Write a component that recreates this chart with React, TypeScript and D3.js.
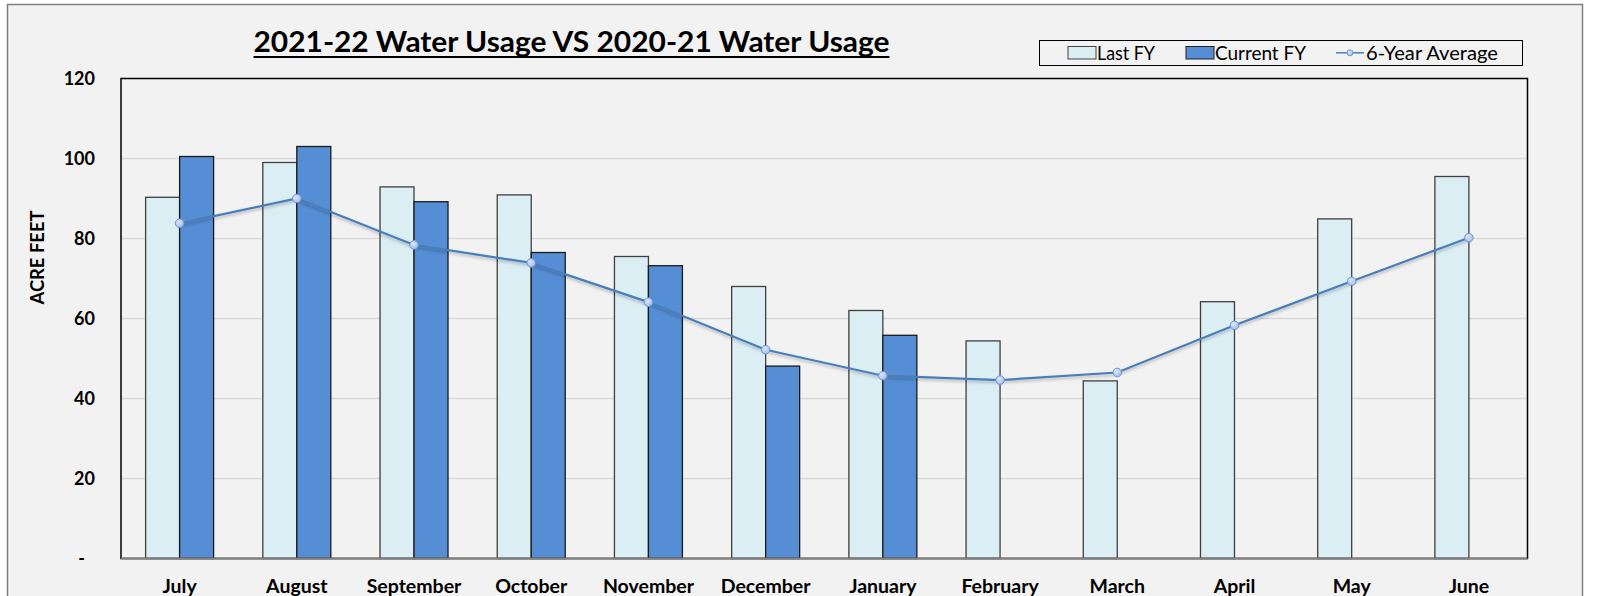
import React from "react";
import * as d3 from "d3";

const months = ["July", "August", "September", "October", "November", "December", "January", "February", "March", "April", "May", "June"];
const lastFY = [90.3, 99.0, 92.9, 90.9, 75.5, 68.0, 62.0, 54.4, 44.4, 64.2, 84.9, 95.5];
const currentFY: (number | null)[] = [100.5, 103.0, 89.2, 76.5, 73.2, 48.1, 55.8, null, null, null, null, null];
const sixYearAvg = [83.8, 90.0, 78.4, 73.9, 64.1, 52.2, 45.7, 44.6, 46.5, 58.3, 69.3, 80.2];
const yTicks = [0, 20, 40, 60, 80, 100, 120];
const seriesNames = ["Last FY", "Current FY", "6-Year Average"];
const titleText = "2021-22 Water Usage VS 2020-21 Water Usage";
const yAxisTitle = "ACRE FEET";

const W = 1601;
const H = 596;
const plot = { left: 121, top: 78.5, right: 1527.5, bottom: 558.5 };
const FONT = "Lato, 'Open Sans', sans-serif";
const LIGHT = "#DBEEF4";
const DARK = "#558ED5";
const LINE = "#4A7EBB";

export default function App() {
  const x = d3.scaleBand<string>().domain(months).range([plot.left, plot.right]).paddingInner(0.42).paddingOuter(0.21);
  const sub = d3.scaleBand<string>().domain(["last", "current"]).range([0, x.bandwidth()]);
  const y = d3.scaleLinear().domain([0, 120]).range([plot.bottom, plot.top]);
  const cx = (m: string) => (x(m) as number) + x.bandwidth() / 2;
  const line = d3
    .line<number>()
    .x((_, i) => cx(months[i]))
    .y((d) => y(d));

  return (
    <svg width={W} height={H} style={{ position: "absolute", left: 0, top: 0, background: "#ffffff" }}>
      <defs>
        <filter id="shadow" x="-5%" y="-20%" width="110%" height="140%">
          <feDropShadow dx="0" dy="2" stdDeviation="1.5" floodColor="#000" floodOpacity="0.25" />
        </filter>
        <radialGradient id="mk" cx="40%" cy="35%" r="70%">
          <stop offset="0%" stopColor="#DCE7FB" />
          <stop offset="100%" stopColor="#9DBAEC" />
        </radialGradient>
      </defs>
      <rect x={7.5} y={4.5} width={1575} height={620} fill="#F2F2F2" stroke="#7F7F7F" strokeWidth={1.5} />

      {/* title */}
      <text x={571.5} y={52} textAnchor="middle" fontFamily={FONT} fontWeight={700} fontSize={28} textLength={636} lengthAdjust="spacingAndGlyphs" fill="#000">
        {titleText}
      </text>
      <line x1={253.5} x2={889.5} y1={57} y2={57} stroke="#000" strokeWidth={2} />

      {/* legend */}
      <rect x={1039.5} y={40.5} width={483} height={25} fill="#F2F2F2" stroke="#000" strokeWidth={1} />
      <rect x={1068} y={46.5} width={28} height={12.5} fill={LIGHT} stroke="#404040" strokeWidth={1} />
      <text x={1097} y={59.5} fontFamily={FONT} fontSize={18.5} fill="#000" textLength={58} lengthAdjust="spacingAndGlyphs">{seriesNames[0]}</text>
      <rect x={1186} y={46.5} width={28} height={12.5} fill={DARK} stroke="#202020" strokeWidth={1} />
      <text x={1215} y={59.5} fontFamily={FONT} fontSize={18.5} fill="#000" textLength={91} lengthAdjust="spacingAndGlyphs">{seriesNames[1]}</text>
      <line x1={1336} x2={1364} y1={52.8} y2={52.8} stroke={LINE} strokeWidth={1.5} />
      <circle cx={1350} cy={52.8} r={3} fill="url(#mk)" stroke="#6F95D6" strokeWidth={1} />
      <text x={1366} y={59.5} fontFamily={FONT} fontSize={18.5} fill="#000" textLength={132} lengthAdjust="spacingAndGlyphs">{seriesNames[2]}</text>

      {/* plot area */}
      <rect x={plot.left} y={plot.top} width={plot.right - plot.left} height={plot.bottom - plot.top} fill="#F2F2F2" />
      {yTicks.filter((t) => t > 0 && t < 120).map((t) => (
        <line key={t} x1={plot.left} x2={plot.right} y1={y(t)} y2={y(t)} stroke="#D9D9D9" strokeWidth={1.3} />
      ))}

      {/* y tick labels */}
      {yTicks.map((t) => (
        <text key={t} x={t === 0 ? 85 : 95} y={y(t)} dy="0.36em" textAnchor="end" fontFamily={FONT} fontWeight={700} fontSize={18} fill="#000">
          {t === 0 ? "-" : d3.format("d")(t)}
        </text>
      ))}
      <text transform={`translate(43.5,257.5) rotate(-90)`} textAnchor="middle" fontFamily={FONT} fontWeight={700} fontSize={18} fill="#000" textLength={94} lengthAdjust="spacingAndGlyphs">
        {yAxisTitle}
      </text>

      {/* bars */}
      {months.map((m, i) => (
        <g key={m}>
          <rect
            x={(x(m) as number) + (sub("last") as number)}
            y={y(lastFY[i])}
            width={sub.bandwidth()}
            height={y(0) - y(lastFY[i])}
            fill={LIGHT}
            stroke="#3F3F3F"
            strokeWidth={1.3}
          />
          {currentFY[i] != null && (
            <rect
              x={(x(m) as number) + (sub("current") as number)}
              y={y(currentFY[i] as number)}
              width={sub.bandwidth()}
              height={y(0) - y(currentFY[i] as number)}
              fill={DARK}
              stroke="#1A1A1A"
              strokeWidth={1.3}
            />
          )}
        </g>
      ))}

      {/* plot border */}
      <rect x={plot.left} y={plot.top} width={plot.right - plot.left} height={plot.bottom - plot.top} fill="none" stroke="#000" strokeWidth={1.5} />
      <line x1={plot.left} x2={plot.right} y1={plot.bottom} y2={plot.bottom} stroke="#7F7F7F" strokeWidth={2} />

      {/* average line */}
      <path d={line(sixYearAvg) as string} fill="none" stroke={LINE} strokeWidth={2.2} filter="url(#shadow)" />
      {sixYearAvg.map((v, i) => (
        <circle key={i} cx={cx(months[i])} cy={y(v)} r={4.3} fill="url(#mk)" stroke="#6F95D6" strokeWidth={1} />
      ))}

      {/* x labels */}
      {months.map((m) => (
        <text key={m} x={cx(m)} y={593} textAnchor="middle" fontFamily={FONT} fontWeight={700} fontSize={19.5} fill="#000">
          {m}
        </text>
      ))}
    </svg>
  );
}
